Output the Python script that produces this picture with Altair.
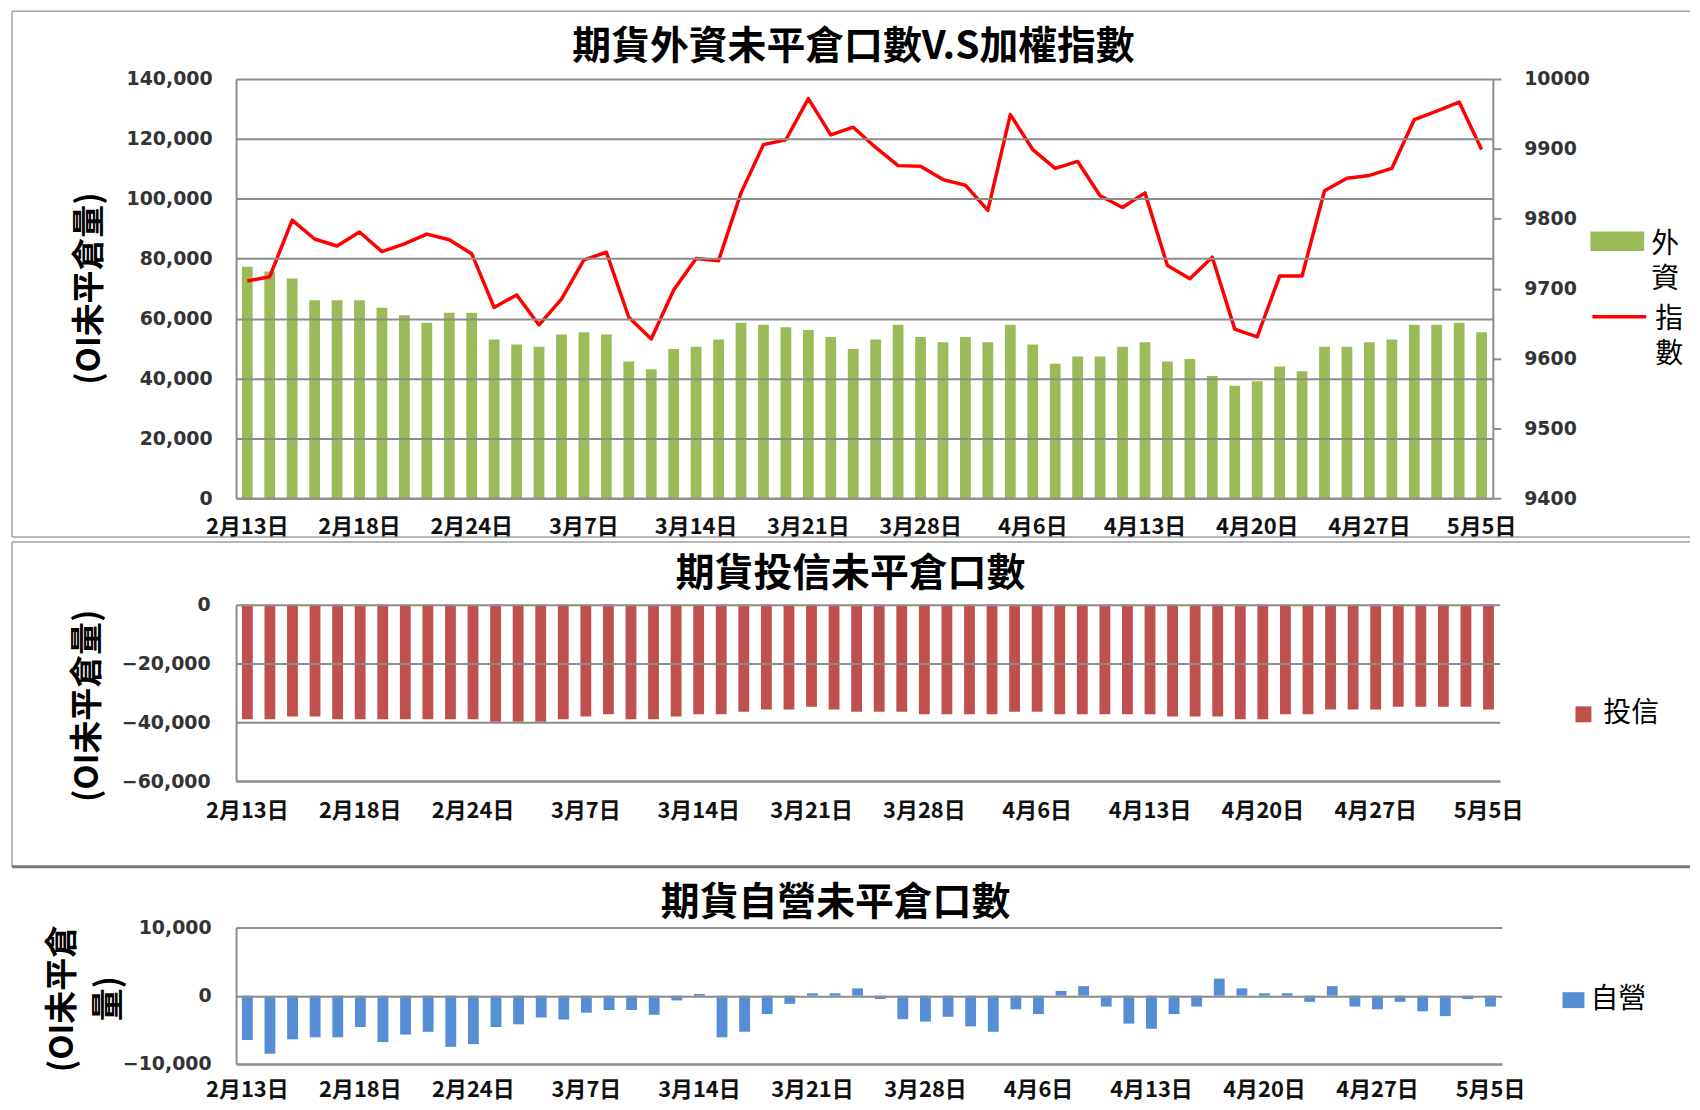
import altair as alt
import pandas as pd

# ---------------- data ----------------
dates = ["2月13日", "2月14日", "2月15日", "2月16日", "2月17日", "2月18日", "2月20日", "2月21日", "2月22日", "2月23日", "2月24日",
         "3月1日", "3月2日", "3月3日", "3月6日", "3月7日", "3月8日", "3月9日", "3月10日", "3月13日", "3月14日",
         "3月15日", "3月16日", "3月17日", "3月20日", "3月21日", "3月22日", "3月23日", "3月24日", "3月27日", "3月28日",
         "3月29日", "3月30日", "3月31日", "4月5日", "4月6日", "4月7日", "4月10日", "4月11日", "4月12日", "4月13日",
         "4月14日", "4月17日", "4月18日", "4月19日", "4月20日", "4月21日", "4月24日", "4月25日", "4月26日", "4月27日",
         "4月28日", "5月2日", "5月3日", "5月4日", "5月5日"]

shown_labels = ["2月13日", "2月18日", "2月24日", "3月7日", "3月14日", "3月21日",
                "3月28日", "4月6日", "4月13日", "4月20日", "4月27日", "5月5日"]

foreign_oi = [77300, 75700, 73400, 66100, 66100, 66100, 63600, 61100, 58600, 61900, 61900,
              53000, 51300, 50600, 54700, 55400, 54700, 45700, 43100, 49800, 50600,
              53000, 58600, 57900, 57100, 56200, 53800, 49800, 53000, 57900, 53800,
              52100, 53800, 52100, 57900, 51300, 44900, 47300, 47300, 50600, 52100,
              45700, 46500, 40800, 37600, 39100, 44000, 42400, 50600, 50600, 52100,
              53000, 57900, 57900, 58600, 55400]

taiex = [9711, 9717, 9798, 9771, 9761, 9781, 9753, 9764, 9778, 9770, 9750,
         9673, 9691, 9648, 9685, 9741, 9752, 9659, 9628, 9698, 9743,
         9740, 9837, 9906, 9913, 9972, 9920, 9931, 9902, 9876, 9875,
         9856, 9848, 9812, 9949, 9899, 9872, 9882, 9833, 9816, 9837,
         9733, 9714, 9745, 9642, 9631, 9718, 9718, 9840, 9858, 9862,
         9872, 9942, 9954, 9967, 9899]

trust_oi = [-39000, -39000, -38000, -38000, -39000, -39000, -39000, -39000, -39000, -39000, -39000,
            -39800, -39800, -39800, -39000, -38000, -37300, -39000, -39000, -38000, -37300,
            -37300, -36400, -35600, -35600, -34700, -35600, -36400, -36400, -36400, -37300,
            -37300, -37300, -37300, -36400, -36400, -37300, -37300, -37300, -37300, -37300,
            -38000, -38000, -38000, -39000, -39000, -37300, -37300, -35600, -35600, -35600,
            -34700, -34700, -34700, -34700, -35600]

dealer_oi = [-6500, -8500, -6400, -6100, -6100, -4600, -6800, -5700, -5300, -7500, -7100,
             -4600, -4200, -3200, -3500, -2500, -2100, -2100, -2800, -700, 250,
             -6100, -5300, -2700, -1200, 350, 350, 1070, -500, -3450, -3800,
             -3100, -4500, -5300, -2000, -2700, 700, 1400, -1600, -4100, -4850,
             -2700, -1600, 2500, 1070, 350, 350, -900, 1400, -1600, -2000,
             -900, -2300, -3000, -500, -1600]

series_names = ["外資", "指數", "投信", "自營"]
panel_titles = ["期貨外資未平倉口數V.S加權指數", "期貨投信未平倉口數", "期貨自營未平倉口數"]
y_title = "(OI未平倉量)"
y_title_wrapped = ["(OI未平倉", "量)"]

left_ticks_1 = [0, 20000, 40000, 60000, 80000, 100000, 120000, 140000]
right_ticks_1 = [9400, 9500, 9600, 9700, 9800, 9900, 10000]
ticks_2 = [0, -20000, -40000, -60000]
ticks_3 = [-10000, 0, 10000]

df = pd.DataFrame({"date": dates, "foreign": foreign_oi, "taiex": taiex,
                   "trust": trust_oi, "dealer": dealer_oi,
                   "s_foreign": series_names[0], "s_index": series_names[1],
                   "s_trust": series_names[2], "s_dealer": series_names[3]})
one = pd.DataFrame({"f": [0]})

# ---------------- style ----------------
CJK = "Noto Sans CJK TC"
NUM = "DejaVu Sans"
GRID = "#8c8c8c"
FRAME = "#a0a0a0"
GREEN = "#9BBB59"
RED_LINE = "#FF0000"
RED_BAR = "#C0504D"
BLUE = "#558ED5"


def xenc(pad):
    return alt.X("date:N", sort=dates, title=None,
                 scale=alt.Scale(paddingInner=0.52, paddingOuter=0.26),
                 axis=alt.Axis(values=shown_labels, labelAngle=0, labelFont=CJK, labelFontSize=22,
                               labelFontWeight="bold", labelColor="#111111", labelBaseline="middle",
                               labelPadding=pad, ticks=False, domainColor=GRID, domainWidth=2,
                               grid=False, labelOverlap=False, zindex=1))


def yaxis(values, pad, title, tx, ty, lh=None):
    kw = dict(values=values, format=",d", labelFont=NUM, labelFontSize=19, labelFontWeight="bold",
              labelColor="#333333", labelPadding=pad, ticks=False, domainColor=GRID, domainWidth=2,
              gridColor=GRID, gridWidth=2, title=title, titleFont=CJK, titleFontSize=33,
              titleFontWeight="bold", titleColor="#000000", titleAngle=270, titleAlign="center",
              titleBaseline="middle", titleX=tx, titleY=ty, labelOverlap=False, zindex=1)
    if lh is not None:
        kw["titleLineHeight"] = lh
    return alt.Axis(**kw)


def hline(x1, x2, y, color, width):
    return alt.Chart(one).mark_rule(color=color, strokeWidth=width).encode(
        x=alt.value(x1), x2=alt.value(x2), y=alt.value(y))


def vline(x, y1, y2, color, width):
    return alt.Chart(one).mark_rule(color=color, strokeWidth=width).encode(
        x=alt.value(x), y=alt.value(y1), y2=alt.value(y2))


def head(text, x, y):
    return alt.Chart(one).mark_text(text=text, font=CJK, fontSize=39, fontWeight="bold",
                                    color="#000000", align="center", baseline="middle").encode(
        x=alt.value(x), y=alt.value(y))


leg_common = dict(orient="none", title=None, padding=0, labelFont=CJK, labelFontSize=28,
                  labelColor="#000000", labelFontWeight="normal")

FL, FR = -225, 1460   # frame left / right, relative to each plot origin

# ---------------- panel 1 ----------------
W1, H1 = 1262, 421
bars1 = alt.Chart(df).mark_bar().encode(
    x=xenc(28),
    y=alt.Y("foreign:Q", scale=alt.Scale(domain=[0, 140000], nice=False),
            axis=yaxis(left_ticks_1, 24, y_title, -147, 210)),
    color=alt.Color("s_foreign:N", scale=alt.Scale(domain=[series_names[0]], range=[GREEN]),
                    legend=alt.Legend(symbolType="M-1,-0.51H1V0.21H-1Z", symbolSize=2916,
                                      symbolStrokeWidth=0, labelExpr="split(datum.label, '')",
                                      labelOffset=7, legendX=1360, legendY=140, **leg_common)),
)
line1 = alt.Chart(df).mark_line(strokeWidth=3.5, strokeJoin="round").encode(
    x=xenc(28),
    y=alt.Y("taiex:Q", scale=alt.Scale(domain=[9400, 10000], nice=False, zero=False),
            axis=alt.Axis(orient="right", values=right_ticks_1, format="d", labelFont=NUM,
                          labelFontSize=19, labelFontWeight="bold", labelColor="#333333",
                          ticks=True, tickSize=8, tickColor=GRID, tickWidth=2, labelPadding=23,
                          domainColor=GRID, domainWidth=2, grid=False, title=None, zindex=1)),
    stroke=alt.Stroke("s_index:N", scale=alt.Scale(domain=[series_names[1]], range=[RED_LINE]),
                      legend=alt.Legend(symbolType="M-1,-0.12H1", symbolSize=2916,
                                        symbolStrokeWidth=3.5, labelExpr="split(datum.label, '')",
                                        labelOffset=7, legendX=1360, legendY=213, **leg_common)),
)
p1 = alt.layer(hline(FL, FR, -68, FRAME, 1.5), vline(FL, -68, 460, FRAME, 1.5),
               hline(FL, FR, 460, FRAME, 1.5), head(panel_titles[0], 620, -32),
               bars1, line1).resolve_scale(y="independent").properties(width=W1, height=H1)

# ---------------- panel 2 ----------------
W2, H2 = 1269, 177
bars2 = alt.Chart(df).mark_bar().encode(
    x=xenc(30),
    y=alt.Y("trust:Q", scale=alt.Scale(domain=[-60000, 0], nice=False),
            axis=yaxis(ticks_2, 26, y_title, -149, 101)),
    color=alt.Color("s_trust:N", scale=alt.Scale(domain=[series_names[2]], range=[RED_BAR]),
                    legend=alt.Legend(symbolType="square", symbolSize=256, symbolStrokeWidth=0,
                                      labelOffset=6, legendX=1339, legendY=96, **leg_common)),
)
p2 = alt.layer(hline(FL, FR, -63, FRAME, 1.5), vline(FL, -63, 263, FRAME, 1.5),
               hline(FL, FR, 263, "#7a7a7a", 3), head(panel_titles[1], 617, -31),
               bars2).properties(width=W2, height=H2)

# ---------------- panel 3 ----------------
W3, H3 = 1271, 137
bars3 = alt.Chart(df).mark_bar().encode(
    x=xenc(26),
    y=alt.Y("dealer:Q", scale=alt.Scale(domain=[-10000, 10000], nice=False),
            axis=yaxis(ticks_3, 25, y_title_wrapped, -174, 71, 46)),
    color=alt.Color("s_dealer:N", scale=alt.Scale(domain=[series_names[3]], range=[BLUE]),
                    legend=alt.Legend(symbolType="M-1,-0.727H1V0.727H-1Z", symbolSize=484,
                                      symbolStrokeWidth=0, labelOffset=3, legendX=1329,
                                      legendY=59, **leg_common)),
)
p3 = alt.layer(vline(FL, -55, 165, "#ffffff", 1.5), head(panel_titles[2], 602, -25),
               bars3).properties(width=W3, height=H3)

chart = alt.concat(p1, p2, p3, columns=1, spacing=3, align="none").resolve_scale(
    color="independent", x="independent").properties(
    padding={"left": 2, "top": 0, "right": 0, "bottom": 0}, background="#ffffff"
).configure(view={"strokeWidth": 0}, style={"guide-label": {"lineHeight": 35}})

chart.save("out.html", embed_options={"renderer": "svg", "actions": False})
